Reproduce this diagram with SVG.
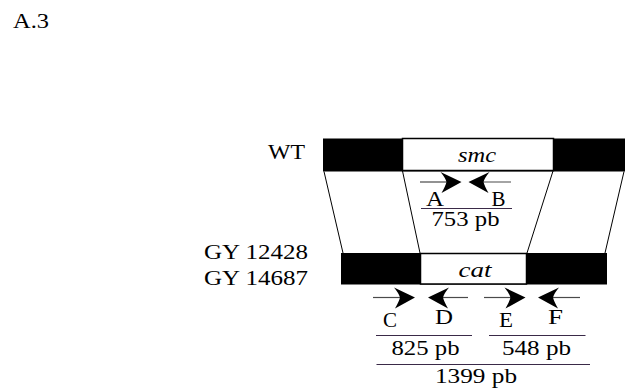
<svg xmlns="http://www.w3.org/2000/svg" xmlns:xlink="http://www.w3.org/1999/xlink" width="632" height="392" viewBox="0 0 632 392">
<style>
text{font-family:"Liberation Serif","Times New Roman",serif;font-size:20px;fill:#000}
.it{font-style:italic}
.gy{font-size:22px}
.bar{fill:#000}
.box{fill:#fff;stroke:#000;stroke-width:1.5}
.conn{stroke:#000;stroke-width:1;fill:none}
.pl{stroke:#4a4a4a;stroke-width:1.2}
.ul{stroke:#3a2a48;stroke-width:1.2}
</style>
<defs>
<path id="head" d="M0,0 L-21,-10 Q-16,-4 -15,0 Q-16,4 -20,11 Z" fill="#000"/>
</defs>
<rect width="632" height="392" fill="#fff"/>
<text x="13" y="28" textLength="36" lengthAdjust="spacingAndGlyphs">A.3</text>

<g id="connectors">
<line class="conn" x1="324" y1="171.5" x2="343" y2="253"/>
<line class="conn" x1="402.5" y1="171" x2="420" y2="253"/>
<line class="conn" x1="553" y1="171" x2="527" y2="253"/>
<line class="conn" x1="624" y1="171.5" x2="605" y2="253"/>
</g>

<g id="wt">
<text x="268" y="159" textLength="37" lengthAdjust="spacingAndGlyphs">WT</text>
<rect class="bar" x="323" y="138.5" width="302" height="33"/>
<rect class="box" x="402.5" y="138.5" width="151" height="32"/>
<text class="it" x="458" y="161.5" textLength="38" lengthAdjust="spacingAndGlyphs">smc</text>
</g>

<g id="primers-ab">
<line class="pl" x1="420" y1="182" x2="452" y2="182"/>
<line class="pl" x1="478" y1="182" x2="511" y2="182"/>
<use xlink:href="#head" transform="translate(461.5,182)"/>
<use xlink:href="#head" transform="translate(468.5,182) scale(-1,1)"/>
<text x="426" y="205.5" textLength="18" lengthAdjust="spacingAndGlyphs">A</text>
<text x="491.5" y="205.5" textLength="14" lengthAdjust="spacingAndGlyphs">B</text>
<line class="ul" x1="421" y1="208.5" x2="512" y2="208.5"/>
<text x="431.5" y="226" textLength="68" lengthAdjust="spacingAndGlyphs">753 pb</text>
</g>

<g id="gy">
<text class="gy" x="204" y="258.5" textLength="104" lengthAdjust="spacingAndGlyphs">GY 12428</text>
<text class="gy" x="204" y="284.5" textLength="104" lengthAdjust="spacingAndGlyphs">GY 14687</text>
<rect class="bar" x="341" y="253" width="266" height="31.5"/>
<rect class="box" x="420.5" y="253.5" width="106" height="30.5"/>
<text class="it" x="458.5" y="277" textLength="33" lengthAdjust="spacingAndGlyphs">cat</text>
</g>

<g id="primers-cdef">
<line class="pl" x1="373" y1="297.5" x2="405" y2="297.5"/>
<line class="pl" x1="438" y1="297.5" x2="468" y2="297.5"/>
<line class="pl" x1="484" y1="297.5" x2="516" y2="297.5"/>
<line class="pl" x1="548" y1="297.5" x2="580" y2="297.5"/>
<use xlink:href="#head" transform="translate(415,297.5)"/>
<use xlink:href="#head" transform="translate(428,297.5) scale(-1,1)"/>
<use xlink:href="#head" transform="translate(525.5,297.5)"/>
<use xlink:href="#head" transform="translate(538,297.5) scale(-1,1)"/>
<text x="383" y="327" textLength="14" lengthAdjust="spacingAndGlyphs">C</text>
<text x="435" y="324" textLength="18" lengthAdjust="spacingAndGlyphs">D</text>
<text x="499" y="327" textLength="14" lengthAdjust="spacingAndGlyphs">E</text>
<text x="548" y="324" textLength="15" lengthAdjust="spacingAndGlyphs">F</text>
</g>

<g id="sizes">
<line class="ul" x1="376" y1="335.5" x2="472" y2="335.5"/>
<line class="ul" x1="489" y1="335.5" x2="585.5" y2="335.5"/>
<text x="391.5" y="355" textLength="68" lengthAdjust="spacingAndGlyphs">825 pb</text>
<text x="502" y="355" textLength="69" lengthAdjust="spacingAndGlyphs">548 pb</text>
<line class="ul" x1="376.5" y1="364.5" x2="590" y2="364.5"/>
<text x="435" y="383" textLength="82" lengthAdjust="spacingAndGlyphs">1399 pb</text>
</g>
</svg>
